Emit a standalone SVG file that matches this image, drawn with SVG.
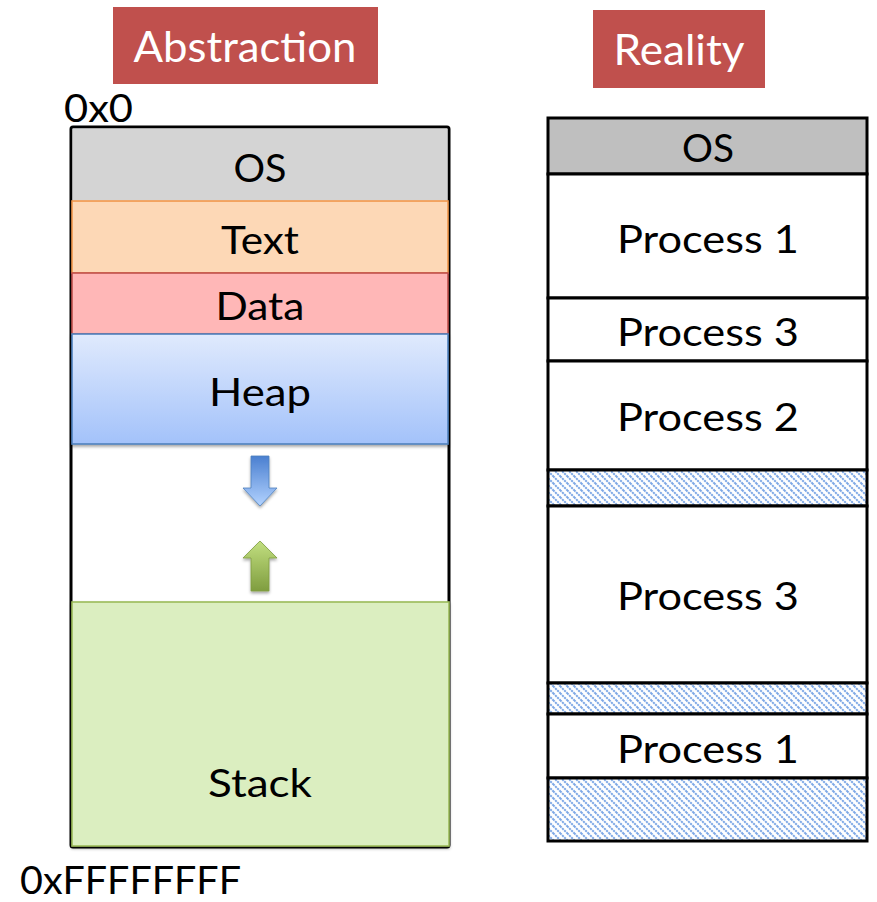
<svg xmlns="http://www.w3.org/2000/svg" width="877" height="902" viewBox="0 0 877 902">
  <defs>
    <style>
      .lbl { font-family: Lato, "Open Sans", "Liberation Sans", sans-serif; fill: #000; }
      .big { font-size: 39px; }
      .title { font-family: Lato, "Open Sans", "Liberation Sans", sans-serif; font-size: 42px; fill: #fff; }
      .cell { fill: #fff; stroke: #000; stroke-width: 3; }
      .free { fill: url(#hatch); stroke: #000; stroke-width: 3; }
    </style>
    <linearGradient id="heapGrad" x1="0" y1="0" x2="0" y2="1">
      <stop offset="0" stop-color="#e0eafd"/>
      <stop offset="1" stop-color="#a3c2fa"/>
    </linearGradient>
    <linearGradient id="blueArrow" x1="0" y1="0" x2="0" y2="1">
      <stop offset="0" stop-color="#4a7fd0"/>
      <stop offset="1" stop-color="#b3d3ff"/>
    </linearGradient>
    <linearGradient id="greenArrow" x1="0" y1="0" x2="0" y2="1">
      <stop offset="0" stop-color="#c2df80"/>
      <stop offset="1" stop-color="#7f9d3f"/>
    </linearGradient>
    <filter id="shadow" x="-10%" y="-10%" width="120%" height="130%">
      <feDropShadow dx="0" dy="2" stdDeviation="1.5" flood-color="#000" flood-opacity="0.35"/>
    </filter>
    <!-- light blue diagonal hatching for unallocated memory -->
    <pattern id="hatch" width="7" height="7" patternUnits="userSpaceOnUse">
      <rect width="7" height="7" fill="#fff"/>
      <path d="M0,0 L7,7 M-1,6 L1,8 M6,-1 L8,1" stroke="#7ea8e6" stroke-width="2" stroke-dasharray="2.2 0.8"/>
    </pattern>
  </defs>

  <!-- Titles -->
  <g id="title-abstraction">
    <rect x="113" y="7" width="265" height="77" fill="#c0504d"/>
    <text class="title" x="245" y="62" text-anchor="middle" textLength="223" lengthAdjust="spacingAndGlyphs">Abstraction</text>
  </g>
  <g id="title-reality">
    <rect x="593" y="10" width="172" height="78" fill="#c0504d"/>
    <text class="title" x="679" y="65" text-anchor="middle" textLength="131" lengthAdjust="spacingAndGlyphs">Reality</text>
  </g>

  <!-- Address-space view -->
  <g id="addr-space">
    <rect x="71" y="127" width="378" height="720" rx="2" fill="#fff" stroke="#000" stroke-width="3"/>
  </g>
  <g id="seg-os">
    <rect x="72.5" y="128.5" width="375" height="72" fill="#d4d4d4"/>
    <text class="lbl big" x="260" y="182" text-anchor="middle" textLength="53" lengthAdjust="spacingAndGlyphs">OS</text>
  </g>
  <g id="seg-text">
    <rect x="72" y="201" width="376" height="72" fill="#fdd8b6" stroke="#f0964a" stroke-width="1.6"/>
    <text class="lbl big" x="260" y="254" text-anchor="middle" textLength="78" lengthAdjust="spacingAndGlyphs">Text</text>
  </g>
  <g id="seg-data">
    <rect x="72" y="273" width="376" height="61" fill="#ffb7b7" stroke="#c0504d" stroke-width="1.6"/>
    <text class="lbl big" x="260" y="320" text-anchor="middle" textLength="89" lengthAdjust="spacingAndGlyphs">Data</text>
  </g>
  <g id="seg-heap">
    <rect x="72" y="334" width="376" height="110" fill="url(#heapGrad)" stroke="#4f81bd" stroke-width="1.6" filter="url(#shadow)"/>
    <text class="lbl big" x="260" y="406" text-anchor="middle" textLength="102" lengthAdjust="spacingAndGlyphs">Heap</text>
  </g>
  <g id="seg-stack">
    <rect x="72" y="602" width="377" height="244" fill="#dbeec0" stroke="#9bbb59" stroke-width="1.6" filter="url(#shadow)"/>
    <text class="lbl big" x="260" y="797" text-anchor="middle" textLength="104" lengthAdjust="spacingAndGlyphs">Stack</text>
  </g>

  <!-- Growth direction arrows -->
  <g id="connectors">
    <path d="M251,456 L269,456 L269,488 L277,488 L260,506 L243,488 L251,488 Z" fill="url(#blueArrow)" stroke="#4f81bd" stroke-width="0.8" filter="url(#shadow)"/>
    <path d="M260,541 L277,558 L269,558 L269,591 L251,591 L251,558 L243,558 Z" fill="url(#greenArrow)" stroke="#7f9d3f" stroke-width="0.8" filter="url(#shadow)"/>
  </g>

  <!-- Address labels -->
  <g id="addr-labels">
    <text class="lbl" font-size="38" x="64" y="122" textLength="69" lengthAdjust="spacingAndGlyphs">0x0</text>
    <text class="lbl" font-size="38" x="20" y="894" textLength="221" lengthAdjust="spacingAndGlyphs">0xFFFFFFFF</text>
  </g>

  <!-- Physical memory view -->
  <g id="phys-os">
    <rect x="548" y="118" width="319" height="56" fill="#bfbfbf" stroke="#000" stroke-width="3"/>
    <text class="lbl big" x="708" y="162" text-anchor="middle" textLength="52" lengthAdjust="spacingAndGlyphs">OS</text>
  </g>
  <g id="phys-p1a">
    <rect class="cell" x="548" y="174" width="319" height="124"/>
    <text class="lbl big" x="708" y="253" text-anchor="middle" textLength="182" lengthAdjust="spacingAndGlyphs">Process 1</text>
  </g>
  <g id="phys-p3a">
    <rect class="cell" x="548" y="298" width="319" height="63"/>
    <text class="lbl big" x="708" y="346" text-anchor="middle" textLength="182" lengthAdjust="spacingAndGlyphs">Process 3</text>
  </g>
  <g id="phys-p2">
    <rect class="cell" x="548" y="361" width="319" height="109"/>
    <text class="lbl big" x="708" y="431" text-anchor="middle" textLength="182" lengthAdjust="spacingAndGlyphs">Process 2</text>
  </g>
  <g id="phys-free1">
    <rect class="free" x="548" y="470" width="319" height="36"/>
  </g>
  <g id="phys-p3b">
    <rect class="cell" x="548" y="506" width="319" height="177"/>
    <text class="lbl big" x="708" y="610" text-anchor="middle" textLength="182" lengthAdjust="spacingAndGlyphs">Process 3</text>
  </g>
  <g id="phys-free2">
    <rect class="free" x="548" y="683" width="319" height="31"/>
  </g>
  <g id="phys-p1b">
    <rect class="cell" x="548" y="714" width="319" height="64"/>
    <text class="lbl big" x="708" y="763" text-anchor="middle" textLength="182" lengthAdjust="spacingAndGlyphs">Process 1</text>
  </g>
  <g id="phys-free3">
    <rect class="free" x="548" y="778" width="319" height="63"/>
  </g>
</svg>
